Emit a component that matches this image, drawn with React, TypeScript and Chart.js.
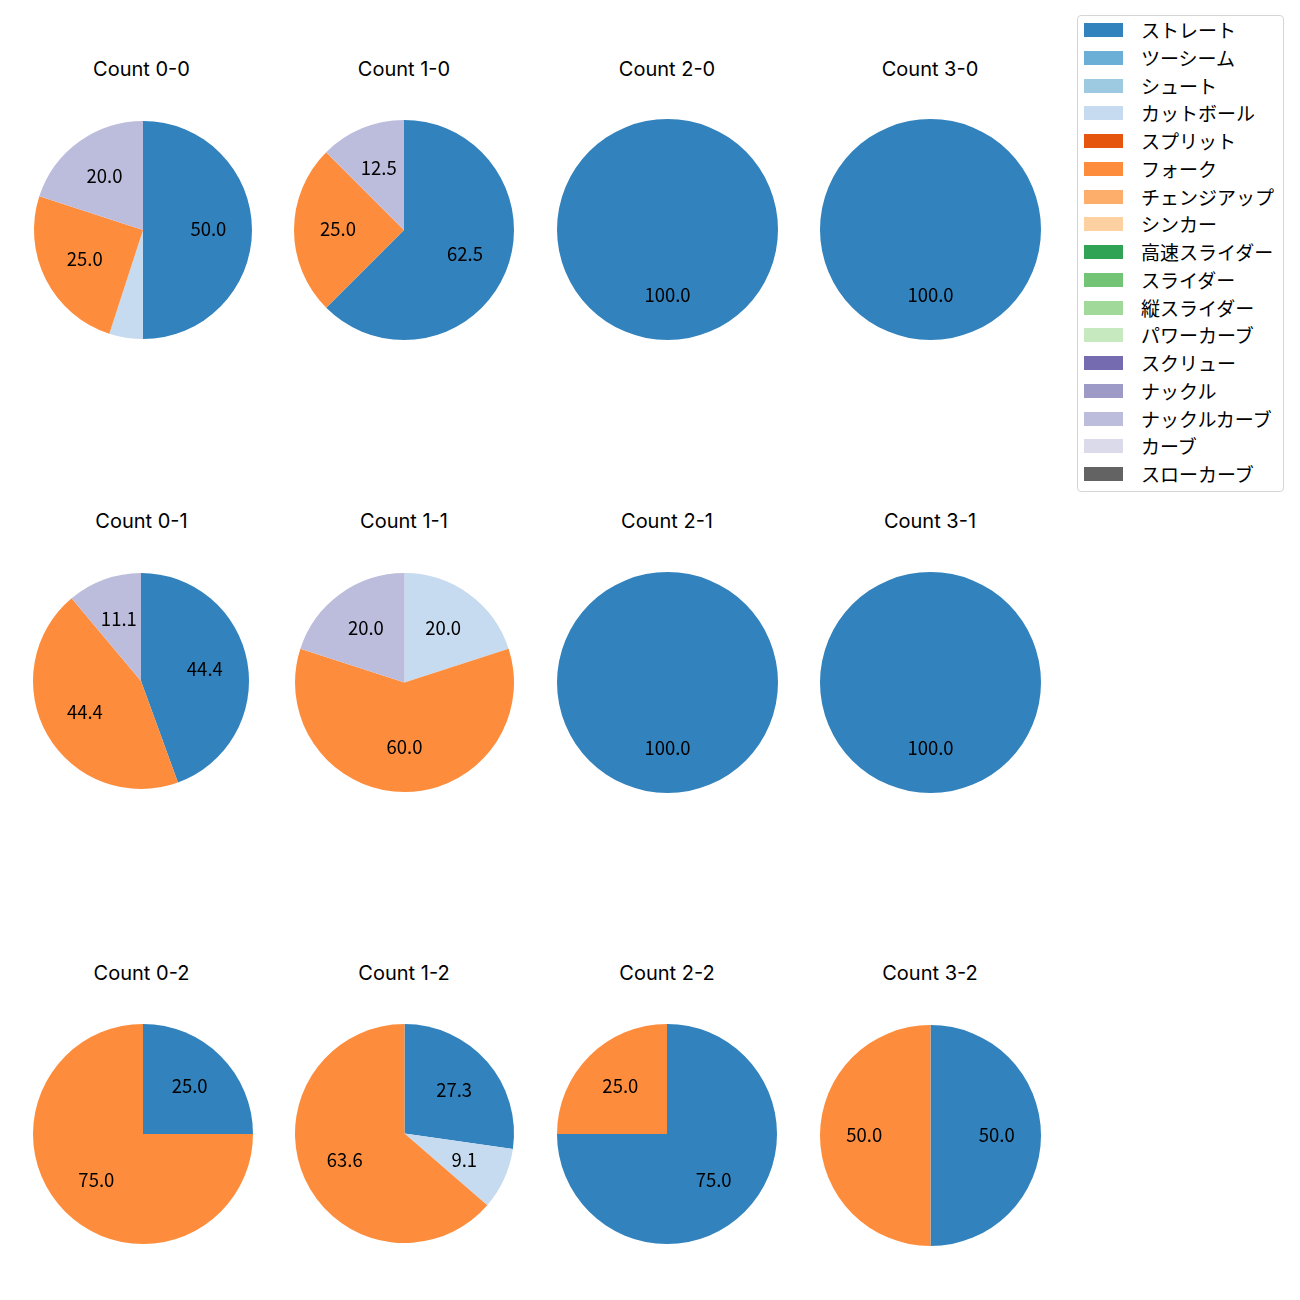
import React, { useEffect, useRef } from "react";
import { Chart, registerables } from "chart.js";

Chart.register(...registerables);

const categories = [
  "ストレート", "ツーシーム", "シュート", "カットボール", "スプリット", "フォーク",
  "チェンジアップ", "シンカー", "高速スライダー", "スライダー", "縦スライダー",
  "パワーカーブ", "スクリュー", "ナックル", "ナックルカーブ", "カーブ", "スローカーブ",
];
const colors = [
  "#3182bd", "#6baed6", "#9ecae1", "#c6dbef", "#e6550d", "#fd8d3c", "#fdae6b", "#fdd0a2",
  "#31a354", "#74c476", "#a1d99b", "#c7e9c0", "#756bb1", "#9e9ac8", "#bcbddc", "#dadaeb", "#636363",
];

const count00 = [10, 0, 0, 1, 0, 5, 0, 0, 0, 0, 0, 0, 0, 0, 4, 0, 0];
const count10 = [5, 0, 0, 0, 0, 2, 0, 0, 0, 0, 0, 0, 0, 0, 1, 0, 0];
const count20 = [1, 0, 0, 0, 0, 0, 0, 0, 0, 0, 0, 0, 0, 0, 0, 0, 0];
const count30 = [1, 0, 0, 0, 0, 0, 0, 0, 0, 0, 0, 0, 0, 0, 0, 0, 0];
const count01 = [4, 0, 0, 0, 0, 4, 0, 0, 0, 0, 0, 0, 0, 0, 1, 0, 0];
const count11 = [0, 0, 0, 1, 0, 3, 0, 0, 0, 0, 0, 0, 0, 0, 1, 0, 0];
const count21 = [1, 0, 0, 0, 0, 0, 0, 0, 0, 0, 0, 0, 0, 0, 0, 0, 0];
const count31 = [1, 0, 0, 0, 0, 0, 0, 0, 0, 0, 0, 0, 0, 0, 0, 0, 0];
const count02 = [1, 0, 0, 0, 0, 3, 0, 0, 0, 0, 0, 0, 0, 0, 0, 0, 0];
const count12 = [3, 0, 0, 1, 0, 7, 0, 0, 0, 0, 0, 0, 0, 0, 0, 0, 0];
const count22 = [3, 0, 0, 0, 0, 1, 0, 0, 0, 0, 0, 0, 0, 0, 0, 0, 0];
const count32 = [1, 0, 0, 0, 0, 1, 0, 0, 0, 0, 0, 0, 0, 0, 0, 0, 0];

const titles = [
  "Count 0-0", "Count 1-0", "Count 2-0", "Count 3-0",
  "Count 0-1", "Count 1-1", "Count 2-1", "Count 3-1",
  "Count 0-2", "Count 1-2", "Count 2-2", "Count 3-2",
];
const series = [
  count00, count10, count20, count30,
  count01, count11, count21, count31,
  count02, count12, count22, count32,
];

// layout (pixel geometry of each subplot)
const titleX = [141.5, 404, 667, 930];
const titleY = [69, 521, 973];
const pieCX = [143, 404, 667, 930, 141.3, 404.5, 667, 930, 142.5, 404.5, 666.5, 930.3];
const pieCY = [229.5, 229.5, 229.5, 229.5, 681.3, 682, 682.5, 682.5, 1134, 1133.5, 1134, 1135];
const pieR = [109, 110, 110.5, 110.5, 108, 109.5, 110.5, 110.5, 110, 109.5, 110, 110.5];

const FONT = "'Noto Sans CJK JP', 'Noto Sans', sans-serif";
const TITLE_FONT = "Inter, 'Noto Sans CJK JP', sans-serif";

const pctLabelPlugin = {
  id: "pctLabels",
  afterDatasetsDraw(chart: any) {
    const ctx = chart.ctx;
    const meta = chart.getDatasetMeta(0);
    const data = chart.data.datasets[0].data as number[];
    const total = data.reduce((a: number, b: number) => a + b, 0);
    ctx.save();
    ctx.fillStyle = "#000";
    ctx.font = `18.5px ${FONT}`;
    ctx.textAlign = "center";
    ctx.textBaseline = "middle";
    meta.data.forEach((arc: any, i: number) => {
      const v = data[i];
      if (!v) return;
      const pct = (v / total) * 100;
      if (pct < 8) return;
      const p = arc.getProps(["x", "y", "startAngle", "endAngle", "outerRadius"], true);
      const mid = (p.startAngle + p.endAngle) / 2;
      const r = p.outerRadius * 0.6;
      ctx.fillText(pct.toFixed(1), p.x + Math.cos(mid) * r, p.y + Math.sin(mid) * r - 1);
    });
    ctx.restore();
  },
};

function Pie({ idx }: { idx: number }) {
  const ref = useRef<HTMLCanvasElement>(null);
  useEffect(() => {
    if (!ref.current) return;
    const chart = new Chart(ref.current, {
      type: "pie",
      data: {
        labels: categories,
        datasets: [
          {
            data: series[idx],
            backgroundColor: colors,
            borderWidth: 0,
          },
        ],
      },
      options: {
        animation: false,
        responsive: false,
        maintainAspectRatio: false,
        layout: { padding: 10 },
        plugins: {
          legend: { display: false },
          tooltip: { enabled: false },
        },
      },
      plugins: [pctLabelPlugin],
    });
    return () => chart.destroy();
  }, [idx]);
  const col = idx % 4;
  const row = Math.floor(idx / 4);
  const size = Math.round(pieR[idx] * 2 + 20);
  return (
    <>
      <div
        style={{
          position: "absolute",
          left: titleX[col] - 100,
          width: 200,
          top: titleY[row] - 13,
          height: 26,
          lineHeight: "26px",
          textAlign: "center",
          fontFamily: TITLE_FONT,
          fontSize: 20,
          color: "#000",
        }}
      >
        {titles[idx]}
      </div>
      <canvas
        ref={ref}
        width={size}
        height={size}
        style={{
          position: "absolute",
          left: pieCX[idx] - size / 2,
          top: pieCY[idx] - size / 2,
          width: size,
          height: size,
        }}
      />
    </>
  );
}

function Legend() {
  return (
    <div
      style={{
        position: "absolute",
        left: 1077,
        top: 15,
        width: 207,
        height: 477,
        border: "1px solid #d5d5d5",
        borderRadius: 4,
        background: "#fff",
        boxSizing: "border-box",
      }}
    >
      {categories.map((c, i) => (
        <div key={c}>
          <div
            style={{
              position: "absolute",
              left: 6,
              top: 7 + i * 27.75,
              width: 39,
              height: 14,
              background: colors[i],
            }}
          />
          <div
            style={{
              position: "absolute",
              left: 63,
              top: 2 + i * 27.75,
              height: 24,
              lineHeight: "24px",
              fontFamily: FONT,
              fontSize: 19,
              color: "#000",
              whiteSpace: "nowrap",
            }}
          >
            {c}
          </div>
        </div>
      ))}
    </div>
  );
}

export default function App() {
  return (
    <div style={{ position: "absolute", left: 0, top: 0, width: 1300, height: 1300, background: "#fff" }}>
      {series.map((_, i) => (
        <Pie key={i} idx={i} />
      ))}
      <Legend />
    </div>
  );
}
